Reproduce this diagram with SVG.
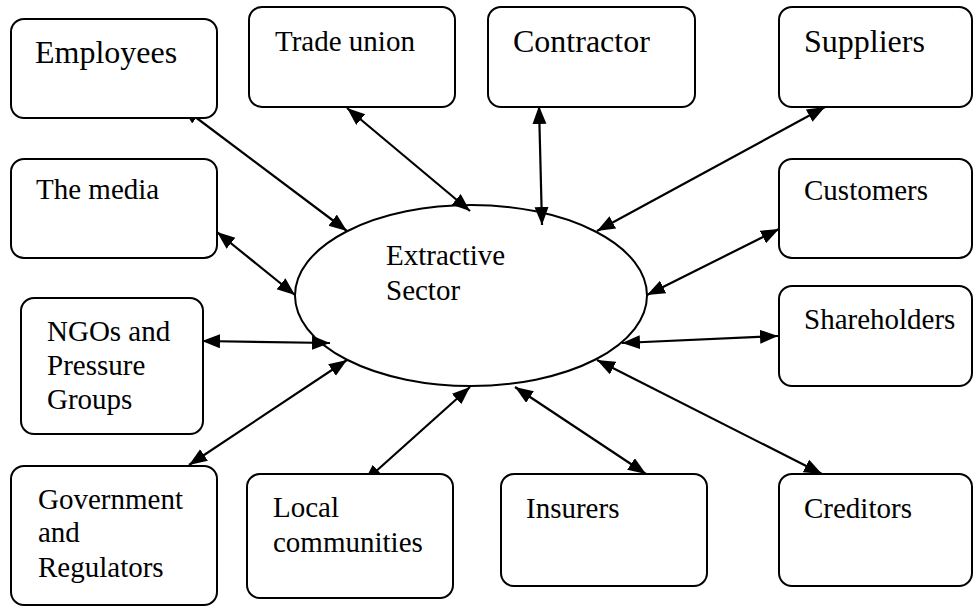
<svg xmlns="http://www.w3.org/2000/svg" width="974" height="607" viewBox="0 0 974 607">
<style>
.box{fill:#fff;stroke:#000;stroke-width:2}
.t{font-family:'Liberation Serif','Times New Roman','DejaVu Serif',serif;font-size:29px;fill:#000}
.big{font-size:32px}
.c{stroke:#000;stroke-width:2.2;fill:none;marker-start:url(#ah);marker-end:url(#ah)}
</style>
<defs>
<marker id="ah" markerUnits="userSpaceOnUse" markerWidth="19" markerHeight="15" refX="18" refY="7" orient="auto-start-reverse">
<path d="M0,0 L18,7 L0,14 z" fill="#000"/>
</marker>
</defs>
<rect width="974" height="607" fill="#fff"/>
<g id="connectors">
<line class="c" x1="182" y1="107" x2="347" y2="231"/>
<line class="c" x1="347" y1="108" x2="470" y2="211"/>
<line class="c" x1="539" y1="106" x2="542" y2="225"/>
<line class="c" x1="825" y1="107" x2="597" y2="231"/>
<line class="c" x1="217" y1="232" x2="295" y2="295"/>
<line class="c" x1="779" y1="229" x2="647" y2="295"/>
<line class="c" x1="202" y1="341" x2="330" y2="343"/>
<line class="c" x1="189" y1="465" x2="347" y2="360"/>
<line class="c" x1="364" y1="482" x2="470" y2="387"/>
<line class="c" x1="622" y1="343" x2="778" y2="336"/>
<line class="c" x1="515" y1="387" x2="646" y2="474"/>
<line class="c" x1="597" y1="360" x2="822" y2="474"/>
</g>
<g id="center">
<ellipse cx="471" cy="295.5" rx="176" ry="90.5" fill="none" stroke="#000" stroke-width="2"/>
<text class="t" x="386" y="265">Extractive</text>
<text class="t" x="386" y="300">Sector</text>
</g>
<g id="employees">
<rect class="box" x="11" y="19" width="206" height="99" rx="13"/>
<text class="t big" x="35" y="63">Employees</text>
</g>
<g id="trade-union">
<rect class="box" x="249" y="7" width="206" height="100" rx="13"/>
<text class="t" x="275" y="51">Trade union</text>
</g>
<g id="contractor">
<rect class="box" x="488" y="7" width="207" height="100" rx="13"/>
<text class="t big" x="513" y="52">Contractor</text>
</g>
<g id="suppliers">
<rect class="box" x="779" y="7" width="193" height="100" rx="13"/>
<text class="t big" x="804" y="52">Suppliers</text>
</g>
<g id="media">
<rect class="box" x="11" y="159" width="206" height="99" rx="13"/>
<text class="t" x="36" y="199">The media</text>
</g>
<g id="customers">
<rect class="box" x="779" y="159" width="193" height="99" rx="13"/>
<text class="t" x="804" y="200">Customers</text>
</g>
<g id="ngos">
<rect class="box" x="21" y="298" width="182" height="136" rx="13"/>
<text class="t" x="47" y="341">NGOs and</text>
<text class="t" x="47" y="375">Pressure</text>
<text class="t" x="47" y="409">Groups</text>
</g>
<g id="shareholders">
<rect class="box" x="779" y="286" width="193" height="100" rx="13"/>
<text class="t" x="804" y="329">Shareholders</text>
</g>
<g id="government">
<rect class="box" x="11" y="466" width="206" height="139" rx="13"/>
<text class="t" x="38" y="509">Government</text>
<text class="t" x="38" y="542">and</text>
<text class="t" x="38" y="577">Regulators</text>
</g>
<g id="local">
<rect class="box" x="247" y="474" width="206" height="124" rx="13"/>
<text class="t" x="273" y="517">Local</text>
<text class="t" x="273" y="552">communities</text>
</g>
<g id="insurers">
<rect class="box" x="501" y="474" width="206" height="112" rx="13"/>
<text class="t" x="526" y="518">Insurers</text>
</g>
<g id="creditors">
<rect class="box" x="779" y="474" width="193" height="112" rx="13"/>
<text class="t" x="804" y="518">Creditors</text>
</g>
</svg>
